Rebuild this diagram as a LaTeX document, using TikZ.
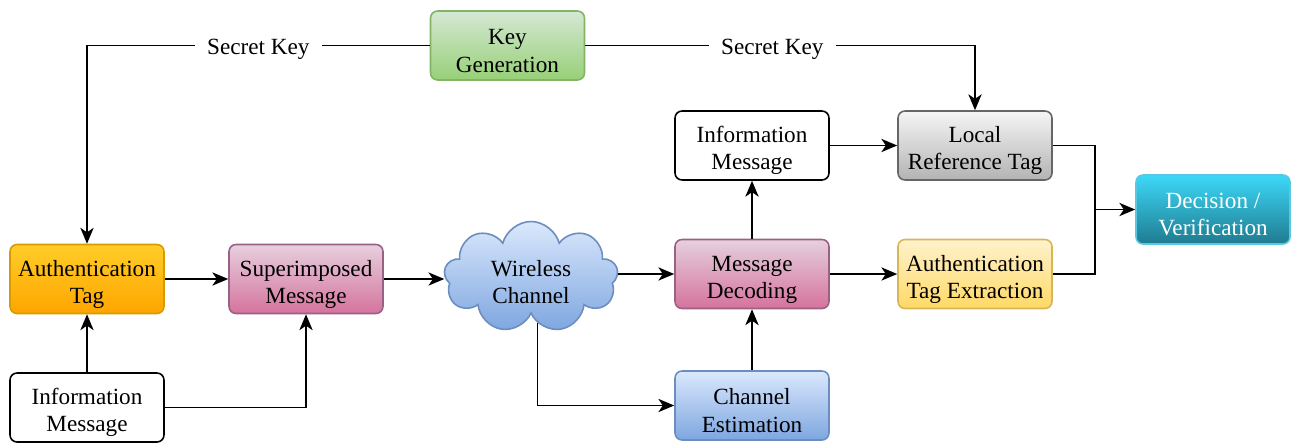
\documentclass[tikz,border=0pt]{standalone}
\usepackage{fontspec}
\setmainfont{Liberation Serif}
\usetikzlibrary{shapes.symbols,arrows.meta}

\definecolor{kgTop}{HTML}{D5E8D4}\definecolor{kgBot}{HTML}{97D077}\definecolor{kgLine}{HTML}{82B366}
\definecolor{atTop}{HTML}{FFCD28}\definecolor{atBot}{HTML}{FFA500}\definecolor{atLine}{HTML}{D79B00}
\definecolor{pkTop}{HTML}{E6D0DE}\definecolor{pkBot}{HTML}{D5739D}\definecolor{pkLine}{HTML}{996185}
\definecolor{blTop}{HTML}{DAE8FC}\definecolor{blBot}{HTML}{7EA6E0}\definecolor{blLine}{HTML}{6C8EBF}
\definecolor{gyTop}{HTML}{F5F5F5}\definecolor{gyBot}{HTML}{B3B3B3}\definecolor{gyLine}{HTML}{666666}
\definecolor{ylTop}{HTML}{FFF2CC}\definecolor{ylBot}{HTML}{FFD966}\definecolor{ylLine}{HTML}{D6B656}
\definecolor{cyTop}{HTML}{3DD8F8}\definecolor{cyBot}{HTML}{1F7B90}\definecolor{cyLine}{HTML}{5BC8E3}

\tikzset{
	txt/.style={font=\fontsize{13.2}{15.4}\selectfont},
	lowered/.style={execute at begin node={\rule{0pt}{30.3pt}}},
	blk/.style={txt, lowered, draw, line width=0.9pt, rounded corners=0.14cm, minimum width=3.08cm, minimum height=1.38cm, align=center, inner sep=0pt},
	plainbox/.style={blk, fill=white},
	greenbox/.style={blk, draw=kgLine, top color=kgTop, bottom color=kgBot},
	orangebox/.style={blk, draw=atLine, top color=atTop, bottom color=atBot},
	pinkbox/.style={blk, draw=pkLine, top color=pkTop, bottom color=pkBot},
	bluebox/.style={blk, draw=blLine, top color=blTop, bottom color=blBot},
	greybox/.style={blk, draw=gyLine, top color=gyTop, bottom color=gyBot},
	yellowbox/.style={blk, draw=ylLine, top color=ylTop, bottom color=ylBot},
	cyanbox/.style={blk, draw=cyLine, top color=cyTop, bottom color=cyBot, text=white},
	cloudbox/.style={txt, lowered, cloud, cloud puffs=9, aspect=1.6, draw=blLine, line width=0.9pt, top color=blTop, bottom color=blBot, minimum width=3.48cm, minimum height=2.22cm, inner sep=0pt, align=center},
	wire/.style={draw, line width=1.1pt},
	conn/.style={wire, -{Stealth[length=9pt,width=7.5pt,inset=2.5pt]}},
	keylbl/.style={txt, fill=white, inner xsep=7pt, inner ysep=2pt, yshift=-2.3pt}
}

\begin{document}
\begin{tikzpicture}[x=0.02cm, y=-0.02cm]
	\useasboundingbox (0,0) rectangle (1295,443);

	\node[greenbox] (keygen) at (507.5,45.5) {Key\\Generation};
	\node[orangebox] (authtag) at (87,279) {Authentication\\Tag};
	\node[plainbox] (infoin) at (87,407.5) {Information\\Message};
	\node[pinkbox] (superimp) at (306,279) {Superimposed\\Message};
	\node[cloudbox] (channel) at (531,277) {Wireless\\Channel};
	\node[pinkbox] (msgdec) at (752,274) {Message\\Decoding};
	\node[bluebox] (chest) at (752,405.5) {Channel\\Estimation};
	\node[plainbox] (infoout) at (752,145.5) {Information\\Message};
	\node[greybox] (localref) at (975,145.5) {Local\\Reference Tag};
	\node[yellowbox] (tagext) at (975,274) {Authentication\\Tag Extraction};
	\node[cyanbox] (decision) at (1213,209.5) {Decision /\\Verification};
	\coordinate (merge) at (1095,209.5);

	% key distribution
	\draw[conn] (keygen.west) -| (authtag.north) node[pos=0.25, keylbl] {Secret Key};
	\draw[conn] (keygen.east) -| (localref.north) node[pos=0.24, keylbl] {Secret Key};

	% transmitter
	\draw[conn] (infoin) -- (authtag);
	\draw[conn] (infoin.east) -| (superimp.south);
	\draw[conn] (authtag) -- (superimp);
	\draw[conn] (superimp.east) -- (superimp.east -| channel.west);

	% receiver
	\draw[conn] (channel.east |- msgdec.west) -- (msgdec.west);
	\draw[conn] (channel.-82) |- (chest.west);
	\draw[conn] (chest) -- (msgdec);
	\draw[conn] (msgdec) -- (infoout);
	\draw[conn] (infoout) -- (localref);
	\draw[conn] (msgdec) -- (tagext);
	\draw[wire] (localref.east) -| (merge);
	\draw[wire] (tagext.east) -| (merge);
	\draw[conn] (merge) -- (decision);
\end{tikzpicture}
\end{document}
